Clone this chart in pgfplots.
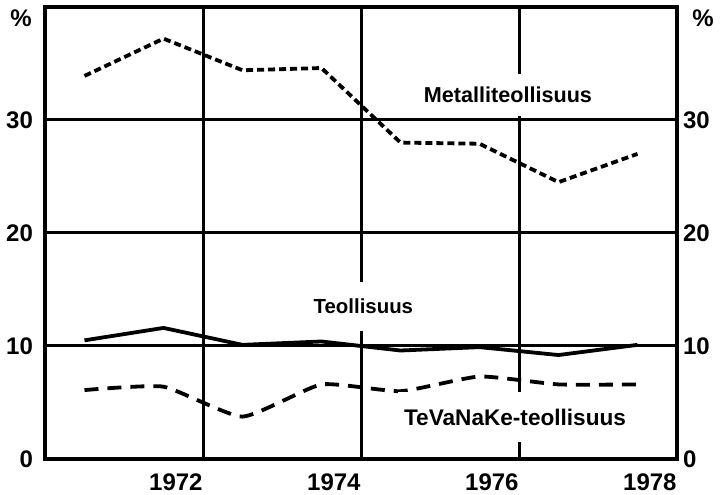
\documentclass[border=0pt]{standalone}
\usepackage{fontspec}
\setmainfont{Liberation Sans}
\usepackage{pgfplots}
\pgfplotsset{compat=1.18}
\usetikzlibrary{calc}

\begin{document}
\begin{tikzpicture}
\pgfplotsset{
  every axis/.append style={
    scale only axis, width=316pt, height=226pt,
    xmin=1970.5, xmax=1978.5, ymin=0, ymax=40,
    ytick={0,10,20,30},
    tick style={draw=none},
    ticklabel style={font=\fontsize{12}{14}\selectfont\bfseries},
    /pgf/number format/assume math mode=true,
  }
}
\begin{axis}[
  name=ax,
  axis line style={line width=2pt},
  xtick={1972.5,1974.5,1976.5,1978.5},
  xticklabels={1972,1974,1976,1978},
  xticklabel style={anchor=north east, inner xsep=0pt, yshift=-4pt},
  yticklabel style={xshift=-2.5pt},
  grid=major,
  major grid style={black, line width=1.5pt},
]
% Metalliteollisuus
\addplot[black, line width=1.9pt, dash pattern=on 3.5pt off 2pt] coordinates {
  (1971,33.9) (1972,37.2) (1973,34.4) (1974,34.6)
  (1975,28.0) (1976,27.9) (1977,24.5) (1978,27.0)};
% Teollisuus
\addplot[black, line width=1.9pt] coordinates {
  (1971,10.5) (1972,11.6) (1973,10.1) (1974,10.4)
  (1975,9.6) (1976,9.9) (1977,9.2) (1978,10.1)};
% TeVaNaKe-teollisuus
\addplot[black, line width=1.9pt, dash pattern=on 7pt off 4.5pt, smooth, tension=0.3] coordinates {
  (1971,6.1) (1972,6.4) (1973,3.75) (1974,6.6)
  (1975,6.0) (1976,7.3) (1977,6.6) (1978,6.6)};
\node[fill=white, inner xsep=3pt, inner ysep=6.5pt, font=\fontsize{10.8}{12}\selectfont\bfseries]
  at (axis cs:1976.36,32.2) {Metalliteollisuus};
\node[fill=white, inner xsep=3pt, inner ysep=8.5pt, font=\fontsize{10.2}{12}\selectfont\bfseries]
  at (axis cs:1974.53,13.5) {Teollisuus};
\node[fill=white, inner xsep=3pt, inner ysep=8.2pt, font=\fontsize{11.3}{12}\selectfont\bfseries]
  at (axis cs:1976.45,3.7) {TeVaNaKe-teollisuus};
\end{axis}
\begin{axis}[
  at={(ax.south west)}, anchor=south west,
  hide x axis,
  axis y line*=right,
  axis line style={draw=none},
  yticklabel style={xshift=-0.5pt},
]
\end{axis}
\node[font=\fontsize{12}{14}\selectfont\bfseries] at ($(ax.north west)+(-12pt,-5.5pt)$) {\%};
\node[font=\fontsize{12}{14}\selectfont\bfseries] at ($(ax.north east)+(13pt,-5.5pt)$) {\%};
\pgfresetboundingbox
\path ($(ax.south west)+(-22.5pt,-18pt)$) rectangle ($(ax.north east)+(21.5pt,3.5pt)$);
\end{tikzpicture}
\end{document}
